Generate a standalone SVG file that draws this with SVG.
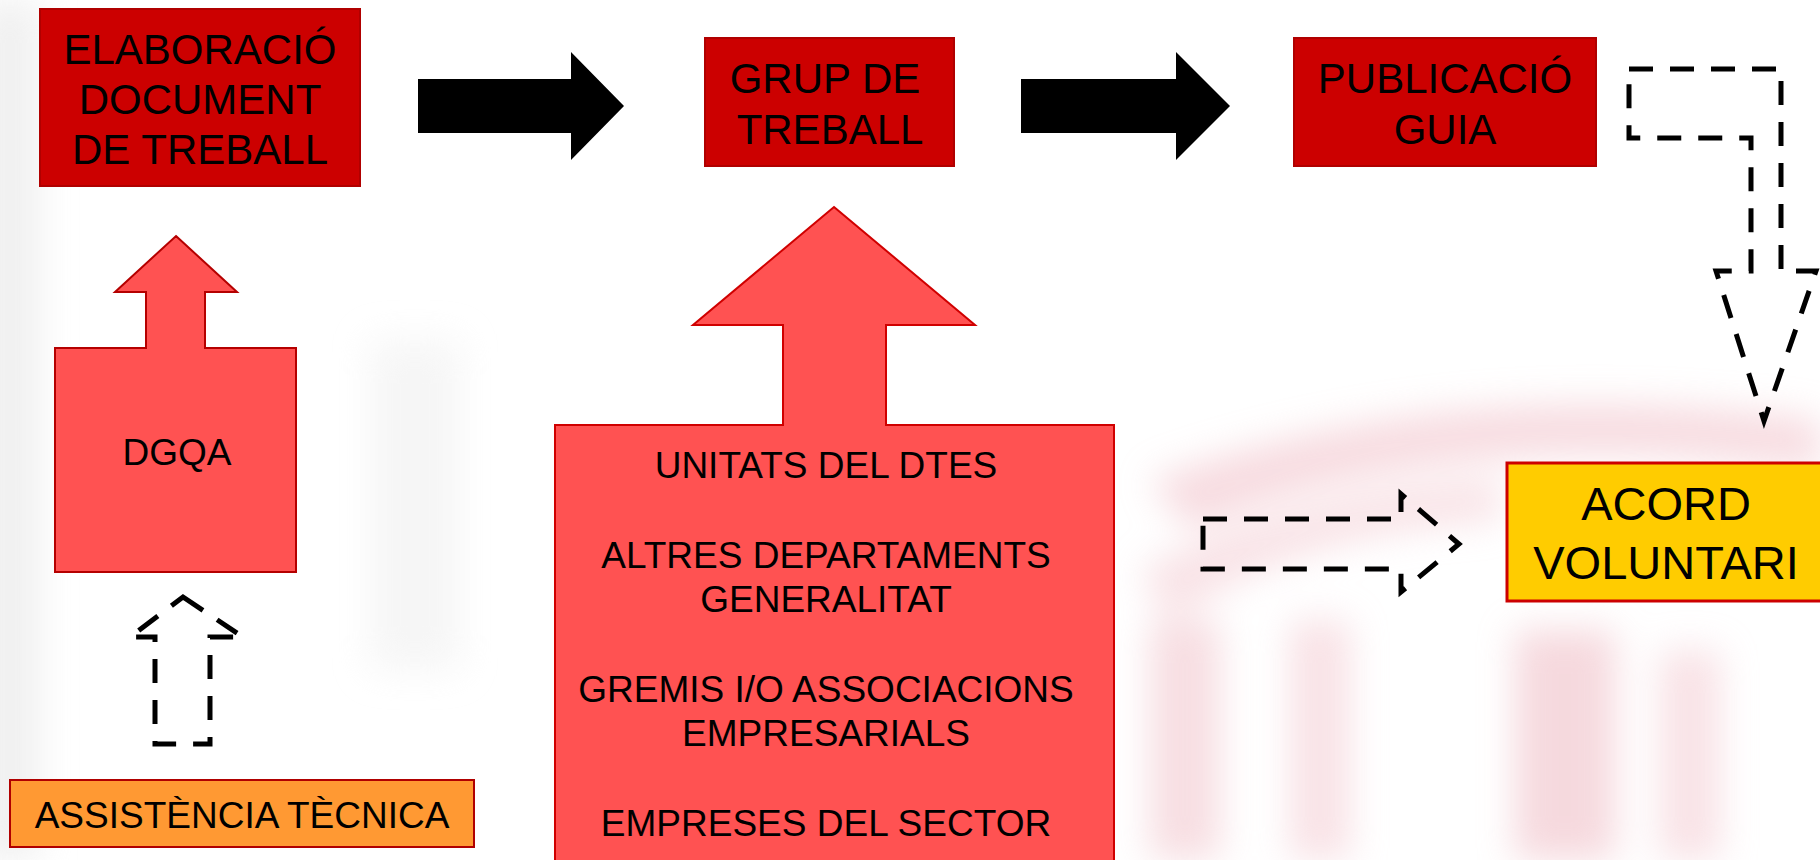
<svg xmlns="http://www.w3.org/2000/svg" width="1820" height="860" viewBox="0 0 1820 860">
  <defs>
    <filter id="blur" x="-20%" y="-20%" width="140%" height="140%">
      <feGaussianBlur stdDeviation="18"/>
    </filter>
    <style>
      text { font-family: "Liberation Sans", Arial, sans-serif; fill: #000; text-anchor: middle; }
      .t42 { font-size: 42px; }
      .t37 { font-size: 37px; }
      .t47 { font-size: 47px; }
      .box { fill: #CC0000; stroke: #B00000; stroke-width: 2; }
      .salmon { fill: #FF5252; stroke: #B50000; stroke-width: 2; }
      .bigup { fill: #FF5252; stroke: #D00000; stroke-width: 2; }
      .black { fill: #000; stroke: none; }
      .dash { fill: none; stroke: #000; stroke-width: 5; stroke-dasharray: 24 17; }
    </style>
  </defs>

  <rect x="0" y="0" width="1820" height="860" fill="#FFFFFF"/>

  <!-- faint background watermark -->
  <g id="watermark" filter="url(#blur)" opacity="0.6">
    <rect x="-20" y="0" width="60" height="860" fill="#E6E6E6"/>
    <rect x="370" y="340" width="90" height="330" fill="#F0F0F0"/>
    <path d="M1150,480 Q1450,370 1820,420 L1820,470 Q1450,420 1190,530 Z" fill="#F2C4CC"/>
    <path d="M1140,570 Q1300,490 1500,480 L1500,520 Q1300,530 1170,620 Z" fill="#F4CFD5"/>
    <rect x="1150" y="620" width="70" height="240" fill="#F2C8CF"/>
    <rect x="1290" y="620" width="60" height="240" fill="#F4CFD5"/>
    <rect x="1515" y="630" width="100" height="230" fill="#F0C0C8"/>
    <rect x="1660" y="650" width="60" height="210" fill="#F4CFD5"/>
  </g>

  <g id="connectors">
    <polygon class="black" points="418,79 571,79 571,52 624,106 571,160 571,133 418,133"/>
    <polygon class="black" points="1021,79 1176,79 1176,52 1230,106 1176,160 1176,133 1021,133"/>
    <polygon class="dash" points="1629,69 1781,69 1781,271 1816,271 1764,421 1716,271 1751,271 1751,138 1629,138"/>
    <polygon class="dash" points="183,597 243,637 210,637 210,744 155,744 155,637 130,637"/>
    <polygon class="dash" points="1203,519 1401,519 1401,494 1459,544 1401,592 1401,569 1203,569"/>
  </g>

  <g id="elaboracio">
    <rect class="box" x="40" y="9" width="320" height="177"/>
    <text class="t42" x="200" y="64">ELABORACIÓ</text>
    <text class="t42" x="200" y="114">DOCUMENT</text>
    <text class="t42" x="200" y="164">DE TREBALL</text>
  </g>

  <g id="grup">
    <rect class="box" x="705" y="38" width="249" height="128"/>
    <text class="t42" x="825" y="93">GRUP DE</text>
    <text class="t42" x="830" y="144">TREBALL</text>
  </g>

  <g id="publicacio">
    <rect class="box" x="1294" y="38" width="302" height="128"/>
    <text class="t42" x="1445" y="93">PUBLICACIÓ</text>
    <text class="t42" x="1445" y="144">GUIA</text>
  </g>

  <g id="dgqa">
    <polygon class="salmon" points="176,236 237,292 205,292 205,348 296,348 296,572 55,572 55,348 146,348 146,292 115,292"/>
    <text class="t37" x="177" y="465">DGQA</text>
  </g>

  <g id="assistencia">
    <rect x="10" y="780" width="464" height="67" fill="#FF9933" stroke="#B00000" stroke-width="2"/>
    <text class="t37" x="242" y="828">ASSISTÈNCIA TÈCNICA</text>
  </g>

  <g id="participants">
    <polygon class="bigup" points="834,207 975,325 886,325 886,425 1114,425 1114,870 555,870 555,425 783,425 783,325 693,325"/>
    <text class="t37" x="826" y="478">UNITATS DEL DTES</text>
    <text class="t37" x="826" y="568">ALTRES DEPARTAMENTS</text>
    <text class="t37" x="826" y="612">GENERALITAT</text>
    <text class="t37" x="826" y="702">GREMIS I/O ASSOCIACIONS</text>
    <text class="t37" x="826" y="746">EMPRESARIALS</text>
    <text class="t37" x="826" y="836">EMPRESES DEL SECTOR</text>
  </g>

  <g id="acord">
    <rect x="1507" y="463" width="318" height="138" fill="#FFCC00" stroke="#CC0000" stroke-width="3"/>
    <text class="t47" x="1666" y="520">ACORD</text>
    <text class="t47" x="1666" y="579">VOLUNTARI</text>
  </g>
</svg>
